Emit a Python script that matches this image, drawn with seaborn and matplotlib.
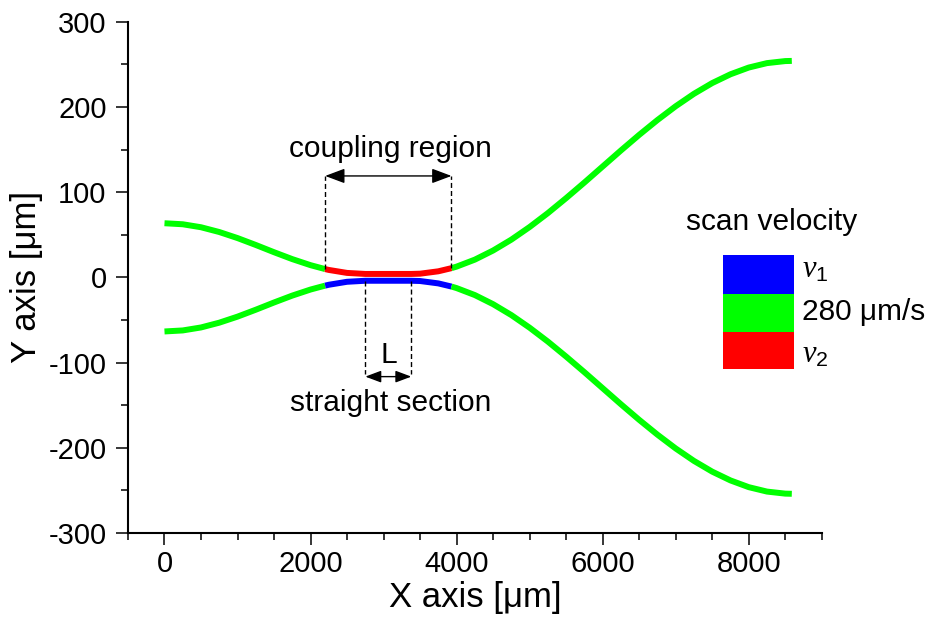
import matplotlib
matplotlib.use("Agg")
import matplotlib.pyplot as plt
from matplotlib.patches import Rectangle
from matplotlib.ticker import MultipleLocator
import seaborn as sns
import pandas as pd

sns.set_theme(style="white")
plt.rcParams['font.family'] = ['Liberation Sans', 'DejaVu Sans']
plt.rcParams['mathtext.fontset'] = 'custom'
plt.rcParams['mathtext.it'] = 'Liberation Serif:italic'
plt.rcParams['mathtext.rm'] = 'Liberation Sans'
plt.rcParams['axes.unicode_minus'] = False
plt.rcParams['text.color'] = 'black'
plt.rcParams['axes.labelcolor'] = 'black'

# ---------------- data ----------------
# upper waveguide
up_left_x = [0, 250, 500, 750, 1000, 1250, 1500, 1750, 2000, 2200]
up_left_y = [63.5, 62.3, 58.8, 53.2, 46.1, 38.0, 29.5, 21.4, 14.3, 9.7]
up_mid_x = [2200, 2250, 2500, 2750, 3000, 3380, 3500, 3750, 3930]
up_mid_y = [9.7, 8.7, 5.2, 4.0, 4.0, 4.0, 4.3, 7.1, 10.8]
up_right_x = [3930, 4000, 4250, 4500, 4750, 5000, 5250, 5500, 5750, 6000, 6250,
              6500, 6750, 7000, 7250, 7500, 7750, 8000, 8250, 8500, 8590]
up_right_y = [10.8, 12.6, 20.8, 31.5, 44.3, 59.1, 75.4, 93.0, 111.3, 130.1, 148.9,
              167.2, 184.6, 200.8, 215.4, 228.0, 238.3, 246.2, 251.4, 253.8, 254.0]
# lower waveguide
lo_left_x = [0, 250, 500, 750, 1000, 1250, 1500, 1750, 2000, 2200]
lo_left_y = [-63.5, -62.3, -58.8, -53.2, -46.1, -38.0, -29.5, -21.4, -14.3, -9.7]
lo_mid_x = [2200, 2250, 2500, 2750, 3000, 3380, 3500, 3750, 3930]
lo_mid_y = [-9.7, -8.7, -5.2, -4.0, -4.0, -4.0, -4.3, -7.1, -10.8]
lo_right_x = [3930, 4000, 4250, 4500, 4750, 5000, 5250, 5500, 5750, 6000, 6250,
              6500, 6750, 7000, 7250, 7500, 7750, 8000, 8250, 8500, 8590]
lo_right_y = [-10.8, -12.6, -20.8, -31.5, -44.3, -59.1, -75.4, -93.0, -111.3, -130.1, -148.9,
              -167.2, -184.6, -200.8, -215.4, -228.0, -238.3, -246.2, -251.4, -253.8, -254.0]

coupling_edges = [2200, 3930]
coupling_top = [10.0, 11.0]
straight_edges = [2750, 3380]
coupling_arrow_y = 119
straight_arrow_y = -116.5

legend_labels = ["v1", "280 \u03bcm/s", "v2"]
legend_colors = ["#0000FF", "#00FF00", "#FF0000"]

GREEN, RED, BLUE = "#00FF00", "#FF0000", "#0000FF"

# ---------------- figure ----------------
fig = plt.figure(figsize=(9.3, 6.22), dpi=100)
ax = fig.add_axes([0.1376, 0.1431, 0.7460, 0.8220])

segments = [
    (up_left_x, up_left_y, GREEN), (up_mid_x, up_mid_y, RED), (up_right_x, up_right_y, GREEN),
    (lo_left_x, lo_left_y, GREEN), (lo_mid_x, lo_mid_y, BLUE), (lo_right_x, lo_right_y, GREEN),
]
for sx, sy, c in segments:
    df = pd.DataFrame({"x": sx, "y": sy})
    sns.lineplot(data=df, x="x", y="y", ax=ax, color=c, lw=4.3, sort=False,
                 estimator=None, solid_capstyle="butt", solid_joinstyle="round")

dash = (0, (3.6, 2.2))
# coupling region
for xe, yt in zip(coupling_edges, coupling_top):
    ax.plot([xe, xe], [yt, coupling_arrow_y], color="black", lw=1, ls=dash)
ax.annotate("", xy=(coupling_edges[1], coupling_arrow_y), xytext=(coupling_edges[0], coupling_arrow_y),
            arrowprops=dict(arrowstyle="<|-|>,head_length=0.8,head_width=0.3", color="black",
                            lw=1, shrinkA=0, shrinkB=0, mutation_scale=15))
ax.text(sum(coupling_edges) / 2 + 30, 151, "coupling region", ha="center", va="center", fontsize=21.5)

# straight section
for xe in straight_edges:
    ax.plot([xe, xe], [-4, straight_arrow_y + 3], color="black", lw=1, ls=dash)
ax.annotate("", xy=(straight_edges[1], straight_arrow_y), xytext=(straight_edges[0], straight_arrow_y),
            arrowprops=dict(arrowstyle="<|-|>,head_length=0.8,head_width=0.3", color="black",
                            lw=1, shrinkA=0, shrinkB=0, mutation_scale=12))
ax.text(sum(straight_edges) / 2, -91, "L", ha="center", va="center", fontsize=21.5)
ax.text(3100, -148, "straight section", ha="center", va="center", fontsize=21.5)

# legend-like colour key
ax.text(0.9284, 0.6077, "scan velocity", transform=ax.transAxes, ha="center", va="center", fontsize=21.5)
box_x0, box_w = 0.8582, 0.1019
box_tops = [0.5437, 0.4669, 0.3937]
box_bots = [0.4669, 0.3937, 0.3202]
for top, bot, col in zip(box_tops, box_bots, legend_colors):
    ax.add_patch(Rectangle((box_x0, bot), box_w, top - bot, transform=ax.transAxes,
                           facecolor=col, edgecolor="none", clip_on=False))
lab_x = 0.972
ax.text(lab_x, 0.515, r"$v_\mathrm{1}$", transform=ax.transAxes, ha="left", va="center", fontsize=22)
ax.text(lab_x, 0.4325, legend_labels[1], transform=ax.transAxes, ha="left", va="center", fontsize=21.5)
ax.text(lab_x, 0.350, r"$v_\mathrm{2}$", transform=ax.transAxes, ha="left", va="center", fontsize=22)

# axes styling
ax.set_xlim(-500, 9000)
ax.set_ylim(-300, 300)
ax.xaxis.set_major_locator(MultipleLocator(2000))
ax.xaxis.set_minor_locator(MultipleLocator(500))
ax.yaxis.set_major_locator(MultipleLocator(100))
ax.yaxis.set_minor_locator(MultipleLocator(50))
for side in ["top", "right"]:
    ax.spines[side].set_visible(False)
for side in ["left", "bottom"]:
    ax.spines[side].set_linewidth(1.5)
    ax.spines[side].set_color("black")
ax.tick_params(which="major", direction="out", length=8.4, width=1.1, color="black",
               labelsize=21, labelcolor="black", left=True, bottom=True)
ax.tick_params(which="minor", direction="out", length=4.8, width=1.1, color="black",
               left=True, bottom=True)
ax.tick_params(axis="y", which="major", pad=7)
ax.tick_params(axis="x", which="major", pad=4)
ax.set_xlabel("X axis [\u03bcm]", fontsize=25, labelpad=2)
ax.set_ylabel("Y axis [\u03bcm]", fontsize=25, labelpad=4)
ax.grid(False)

fig.savefig("out.png", dpi=100)
